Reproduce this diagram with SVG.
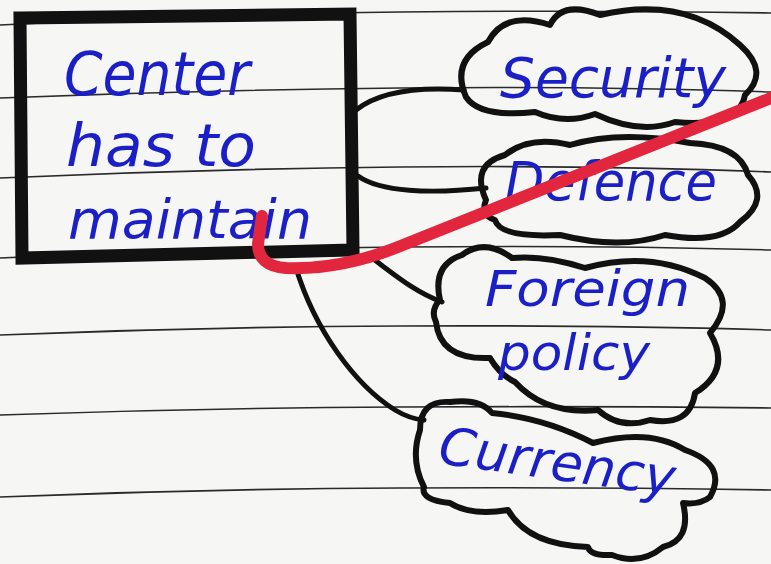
<svg xmlns="http://www.w3.org/2000/svg" width="771" height="564" viewBox="0 0 771 564">
  <style>
    .rule { fill: none; stroke: #2a2a2a; stroke-width: 1.6; }
    .box { fill: none; stroke: #111; stroke-width: 13; stroke-linejoin: miter; }
    .cloud { fill: none; stroke: #111; stroke-width: 6; stroke-linejoin: round; }
    .link { fill: none; stroke: #111; stroke-width: 5; stroke-linecap: round; }
    .ink { fill: #1a1fc6; font-family: "DejaVu Sans", "Liberation Sans", sans-serif; font-style: oblique; }
    .strike { fill: none; stroke: #e2263e; stroke-width: 12; stroke-linecap: round; stroke-linejoin: round; }
  </style>

  <!-- paper -->
  <rect x="0" y="0" width="771" height="564" fill="#f6f6f4"/>

  <!-- ruled lines -->
  <g id="rules">
    <path class="rule" d="M0 25 Q200 14 400 12 T771 13"/>
    <path class="rule" d="M0 98 Q200 90 400 88 T771 92"/>
    <path class="rule" d="M0 178 Q200 169 400 167 T771 172"/>
    <path class="rule" d="M0 258 Q200 249 400 247 T771 250"/>
    <path class="rule" d="M0 335 Q200 327 400 326 T771 330"/>
    <path class="rule" d="M0 415 Q200 408 400 407 T771 408"/>
    <path class="rule" d="M0 497 Q200 489 400 488 T771 490"/>
  </g>

  <!-- connectors -->
  <g id="connectors">
    <path class="link" d="M356 110 C375 95 410 86 464 90"/>
    <path class="link" d="M358 176 C380 192 430 194 486 188"/>
    <path class="link" d="M372 258 C395 275 415 292 442 302"/>
    <path class="link" d="M296 268 C315 330 355 385 395 410 Q410 419 424 420"/>
  </g>

  <!-- main box -->
  <g id="center">
    <path class="box" d="M20 18 L350 14 L353 250 L22 258 Z"/>
    <text class="ink" x="64" y="95" font-size="60" textLength="186" lengthAdjust="spacingAndGlyphs">Center</text>
    <text class="ink" x="66" y="166" font-size="58" textLength="190" lengthAdjust="spacingAndGlyphs">has to</text>
    <text class="ink" x="68" y="238" font-size="54" textLength="244" lengthAdjust="spacingAndGlyphs">maintain</text>
  </g>

  <!-- security -->
  <g id="security">
    <path class="cloud" d="M466 97 Q450 60 488 42 Q505 10 550 25 Q562 0 600 15 Q685 -5 740 45 Q770 72 745 95 Q740 128 675 122 Q640 135 595 114 Q565 125 535 112 Q480 118 466 97 Z"/>
    <text class="ink" x="500" y="97" font-size="56" textLength="226" lengthAdjust="spacingAndGlyphs">Security</text>
  </g>

  <!-- defence -->
  <g id="defence">
    <path class="cloud" d="M486 200 Q470 165 505 155 Q530 135 570 145 Q620 130 690 143 Q740 145 748 175 Q770 200 740 222 Q720 245 665 235 Q620 250 560 235 Q500 238 495 220 Q480 215 486 200 Z"/>
    <text class="ink" x="505" y="200" font-size="54" textLength="212" lengthAdjust="spacingAndGlyphs">Defence</text>
  </g>

  <!-- foreign policy -->
  <g id="foreign-policy">
    <path class="cloud" d="M440 300 Q432 265 462 255 Q485 238 512 258 Q545 255 585 268 Q650 250 705 278 Q738 300 710 333 Q732 370 695 393 Q690 427 650 420 Q620 430 598 410 Q545 415 515 382 Q500 375 490 358 Q440 360 436 322 Q430 310 440 300 Z"/>
    <text class="ink" x="485" y="306" font-size="50" textLength="205" lengthAdjust="spacingAndGlyphs">Foreign</text>
    <text class="ink" x="498" y="370" font-size="50" textLength="152" lengthAdjust="spacingAndGlyphs">policy</text>
  </g>

  <!-- currency -->
  <g id="currency">
    <path class="cloud" d="M420 430 Q420 400 450 402 Q480 398 492 413 Q545 418 593 443 Q650 428 685 450 Q728 465 710 497 Q700 505 683 503 Q692 540 663 547 Q640 566 612 555 Q590 556 588 547 Q528 545 508 510 Q470 516 450 503 Q420 500 424 487 Q410 460 420 430 Z"/>
    <text class="ink" x="437" y="463" font-size="52" textLength="238" lengthAdjust="spacingAndGlyphs" transform="rotate(8 437 463)">Currency</text>
  </g>

  <!-- red strike-through -->
  <path class="strike" d="M771 98 L398 247 Q340 270 286 268 Q258 266 258 244 L262 216"/>
</svg>
